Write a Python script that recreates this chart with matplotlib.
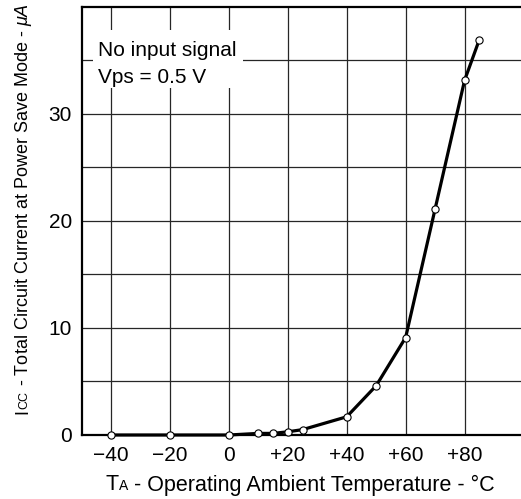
import numpy as np
import matplotlib
matplotlib.use("Agg")
import matplotlib.pyplot as plt
from matplotlib.patches import Rectangle

plt.rcParams['font.family'] = ['Liberation Sans', 'DejaVu Sans']
plt.rcParams['mathtext.fontset'] = 'custom'
plt.rcParams['mathtext.it'] = 'Liberation Sans:italic'
plt.rcParams['mathtext.rm'] = 'Liberation Sans'

# data
temp = [-40, -20, 0, 10, 15, 20, 25, 40, 50, 60, 70, 80, 85]
icc = [0.0, 0.0, 0.0, 0.15, 0.15, 0.3, 0.5, 1.7, 4.6, 9.1, 21.1, 33.1, 36.9]

xticks = [-40, -20, 0, 20, 40, 60, 80]
xtick_labels = ["\u221240", "\u221220", "0", "+20", "+40", "+60", "+80"]
yticks = [0, 10, 20, 30]
ygrid = [5, 10, 15, 20, 25, 30, 35]

W, H = 521, 499
fig = plt.figure(figsize=(W / 100, H / 100), dpi=100)
ax = fig.add_axes([81.5 / W, (H - 435) / H, (523.5 - 81.5) / W, (435 - 6.5) / H])

ax.set_xlim(-50, 100)
ax.set_ylim(0, 40)

for x in xticks:
    ax.axvline(x, color='0.15', lw=0.9, zorder=1)
for y in ygrid:
    ax.axhline(y, color='0.15', lw=0.9, zorder=1)

ax.plot(temp, icc, color='black', lw=2.3, marker='o', markersize=5.2,
        markerfacecolor='white', markeredgecolor='black', markeredgewidth=0.8,
        zorder=3, clip_on=False)

ax.set_xticks(xticks)
ax.set_xticklabels(xtick_labels)
ax.set_yticks(yticks)
ax.tick_params(length=0, labelsize=15)
ax.tick_params(axis='x', pad=8)
ax.tick_params(axis='y', pad=7)

for s in ['left', 'bottom', 'top', 'right']:
    ax.spines[s].set_linewidth(1.6)

# condition box (white patch hides the grid behind the text)
ax.add_patch(Rectangle((-46.1, 32.4), 50.9, 5.45, facecolor='white', edgecolor='none', zorder=2))
ax.text(-44.4, 35.4, "No input signal", fontsize=15, ha='left', va='baseline', zorder=4)
ax.text(-44.4, 32.9, "Vps = 0.5 V", fontsize=15, ha='left', va='baseline', zorder=4)


def place_pieces(pieces, cx, cy, rot):
    # lay out text pieces of mixed size along one baseline, centred on (cx, cy) in pixels
    r = fig.canvas.get_renderer()
    ref = fig.text(0, 0, "x", fontsize=10)
    texts = []
    lengths = []
    for s, fs in pieces:
        t = fig.text(0, 0, s, fontsize=fs, rotation=rot, rotation_mode='anchor',
                     ha='left', va='baseline')
        ref.set_fontsize(fs)
        ref.set_text("x" + s + "x")
        w_all = ref.get_window_extent(r).width
        ref.set_text("xx")
        w_x = ref.get_window_extent(r).width
        texts.append(t)
        lengths.append(w_all - w_x)
    ref.remove()
    total = sum(lengths)
    pos = -total / 2
    for t, l in zip(texts, lengths):
        if rot == 0:
            t.set_position(((cx + pos) / W, cy / H))
        else:
            t.set_position((cx / W, (cy + pos) / H))
        pos += l


place_pieces([("T", 15.5), ("A", 10), (" - Operating Ambient Temperature - \u00b0C", 15.5)],
             300, H - 490.5, 0)
place_pieces([("I", 13), ("CC", 9), (" - Total Circuit Current at Power Save Mode - $\\mu A$", 13)],
             27.5, H - 208, 90)

fig.savefig("out.png", dpi=100)
